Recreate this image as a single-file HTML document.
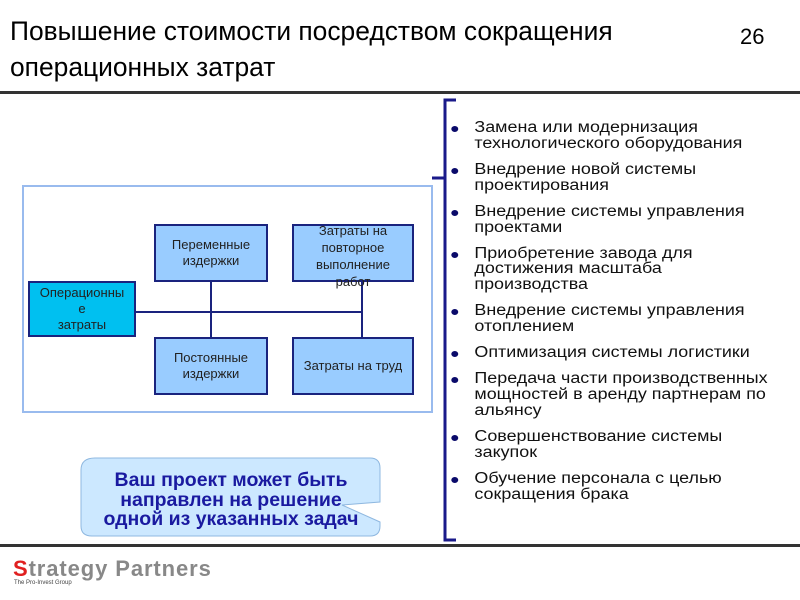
<!DOCTYPE html>
<html><head><meta charset="utf-8"><style>
body{margin:0;width:800px;height:600px;background:#fff;position:relative;overflow:hidden;font-family:"Liberation Sans",sans-serif}
.a{position:absolute}
.t{font-size:26.4px;color:#000;line-height:36px;left:10px;top:13px}
.bx{position:absolute;background:#99ccff;border:2px solid #1a237e;box-sizing:border-box;display:flex;align-items:center;justify-content:center;text-align:center;font-size:13px;line-height:16px;color:#222}
ul{position:absolute;left:449px;top:120px;margin:0;padding:0;list-style:none;font-size:15.5px;line-height:15.7px;color:#111;transform:scaleX(1.155);transform-origin:0 0}
li{position:relative;padding-left:22px;margin-bottom:10.5px;white-space:nowrap}
li:before{content:"";position:absolute;left:2px;top:6px;width:6px;height:6px;border-radius:50%;background:#0a0a6a}
</style></head><body>
<div class="a t">Повышение стоимости посредством сокращения<br>операционных затрат</div>
<div class="a" style="left:740px;top:24px;font-size:22px">26</div>
<div class="a" style="left:0;top:91px;width:800px;height:3px;background:#333"></div>
<div class="a" style="left:0;top:544px;width:800px;height:3px;background:#333"></div>
<svg class="a" style="left:0;top:0" width="800" height="600">
<rect x="23" y="186" width="409" height="226" fill="none" stroke="#99bbee" stroke-width="2"/>
<path d="M135 312H362M211 281V337M362 281V337" stroke="#1a237e" stroke-width="2" fill="none"/>
<path d="M456 100H445V540H456M445 178H432" stroke="#1a1a8a" stroke-width="3" fill="none"/>
<path d="M95 458H370Q380 458 380 468V502L342 505L380 522V526Q380 536 370 536H92Q81 536 81 526V470Q81 458 95 458Z" fill="#cce8ff" stroke="#8fb8e0" stroke-width="1"/>
</svg>
<div class="bx" style="left:154px;top:224px;width:114px;height:58px">Переменные<br>издержки</div>
<div class="bx" style="left:292px;top:224px;width:122px;height:58px;align-items:flex-start;line-height:17px;padding-top:0"><div style="margin-top:-4px">Затраты на<br>повторное<br>выполнение<br>работ</div></div>
<div class="bx" style="left:28px;top:281px;width:108px;height:56px;background:#00c0f0">Операционны<br>е<br>затраты</div>
<div class="bx" style="left:154px;top:337px;width:114px;height:58px">Постоянные<br>издержки</div>
<div class="bx" style="left:292px;top:337px;width:122px;height:58px">Затраты на труд</div>
<div class="a" style="left:71px;top:471px;width:320px;text-align:center;font-weight:bold;font-size:19.5px;line-height:19.5px;color:#1a1aa0">Ваш проект может быть<br>направлен на решение<br>одной из указанных задач</div>
<ul>
<li>Замена или модернизация<br>технологического оборудования</li>
<li>Внедрение новой системы<br>проектирования</li>
<li>Внедрение системы управления<br>проектами</li>
<li>Приобретение завода для<br>достижения масштаба<br>производства</li>
<li>Внедрение системы управления<br>отоплением</li>
<li>Оптимизация системы логистики</li>
<li>Передача части производственных<br>мощностей в аренду партнерам по<br>альянсу</li>
<li>Совершенствование системы<br>закупок</li>
<li>Обучение персонала с целью<br>сокращения брака</li>
</ul>
<div class="a" style="left:13px;top:556px;font-size:22px;font-weight:bold;color:#888;letter-spacing:0.9px"><span style="color:#e02020">S</span>trategy Partners</div>
<div class="a" style="left:14px;top:580px;font-size:6px;color:#444">The Pro-Invest Group</div>
</body></html>
